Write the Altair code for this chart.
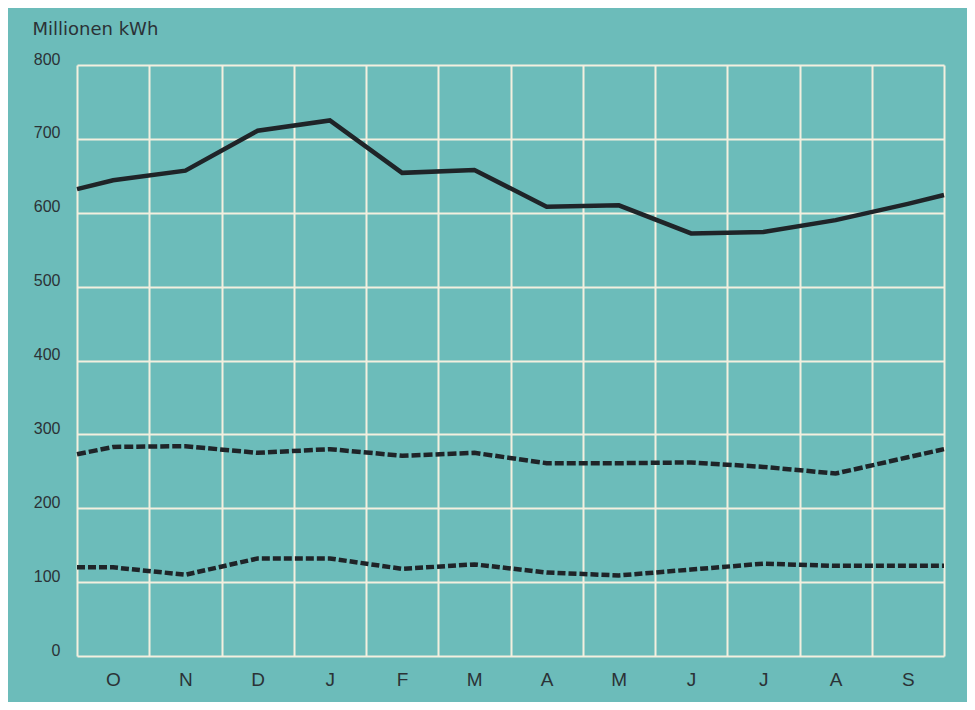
import altair as alt
import pandas as pd

months = ["O", "N", "D", "J", "F", "M", "A", "M", "J", "J", "A", "S"]
# positions: start boundary, month centres, end boundary
x_pos = [0, 0.5, 1.5, 2.5, 3.5, 4.5, 5.5, 6.5, 7.5, 8.5, 9.5, 10.5, 11.5, 12]
total = [632, 644, 657, 711, 725, 654, 658, 608, 610, 572, 574, 590, 612, 624]
upper = [273, 283, 284, 275, 280, 271, 275, 261, 261, 262, 256, 247, 269, 280]
lower = [120, 120, 110, 132, 132, 118, 124, 113, 109, 117, 125, 122, 122, 122]
y_ticks = [0, 100, 200, 300, 400, 500, 600, 700, 800]

rows = []
for name, vals in [("total", total), ("upper", upper), ("lower", lower)]:
    for x, v in zip(x_pos, vals):
        rows.append({"series": name, "x": x, "v": v})
df = pd.DataFrame(rows)

BG = "#6cbcba"
GRID = "#f3efdf"
INK = "#1f2428"
TXT = "#2b3236"

month_js = "[" + ",".join("'%s'" % m for m in months) + "]"

x_enc = alt.X(
    "x:Q",
    scale=alt.Scale(domain=[0, 12], nice=False, zero=False),
    axis=alt.Axis(
        values=list(range(13)),
        labelExpr="datum.value < 12 ? %s[datum.value] : ''" % month_js,
        labelOffset=36,
        labelPadding=29,
        labelFlush=False,
        labelOverlap=False,
        labelAlign="center",
        labelBaseline="alphabetic",
        labelFont="Liberation Sans",
        labelFontSize=19,
        labelColor=TXT,
        ticks=False,
        tickSize=0,
        domain=False,
        grid=True,
        gridColor=GRID,
        gridWidth=2,
        gridOpacity=1,
        title=None,
    ),
)
y_enc = alt.Y(
    "v:Q",
    scale=alt.Scale(domain=[0, 800], nice=False),
    axis=alt.Axis(
        values=y_ticks,
        labelAlign="right",
        labelBaseline="alphabetic",
        labelOffset=-1,
        labelPadding=17,
        labelFlush=False,
        labelFont="Liberation Sans",
        labelFontSize=16,
        labelColor=TXT,
        ticks=False,
        tickSize=0,
        domain=False,
        grid=True,
        gridColor=GRID,
        gridWidth=2,
        gridOpacity=1,
        title="Millionen kWh",
        titleAngle=0,
        titleAlign="left",
        titleBaseline="alphabetic",
        titleX=-45,
        titleY=-31,
        titleFont="DejaVu Sans",
        titleFontSize=18,
        titleFontWeight="normal",
        titleColor=TXT,
    ),
)

base = alt.Chart(df)
solid = base.transform_filter(alt.datum.series == "total").mark_line(
    color=INK, strokeWidth=4.5, strokeJoin="miter"
).encode(x=x_enc, y=y_enc)
dash_up = base.transform_filter(alt.datum.series == "upper").mark_line(
    color=INK, strokeWidth=4.5, strokeDash=[9, 3], strokeCap="butt"
).encode(x="x:Q", y="v:Q")
dash_lo = base.transform_filter(alt.datum.series == "lower").mark_line(
    color=INK, strokeWidth=4.5, strokeDash=[8, 3], strokeCap="butt"
).encode(x="x:Q", y="v:Q")

chart = (
    alt.layer(solid, dash_up, dash_lo)
    .properties(
        width=867,
        height=591,
        background=BG,
        padding={"left": 69, "top": 57, "right": 23, "bottom": 46},
        autosize=alt.AutoSizeParams(type="none"),
    )
    .configure_view(stroke=None, fill=BG)
)

chart.save("out.html", embed_options={"renderer": "svg", "actions": False})
